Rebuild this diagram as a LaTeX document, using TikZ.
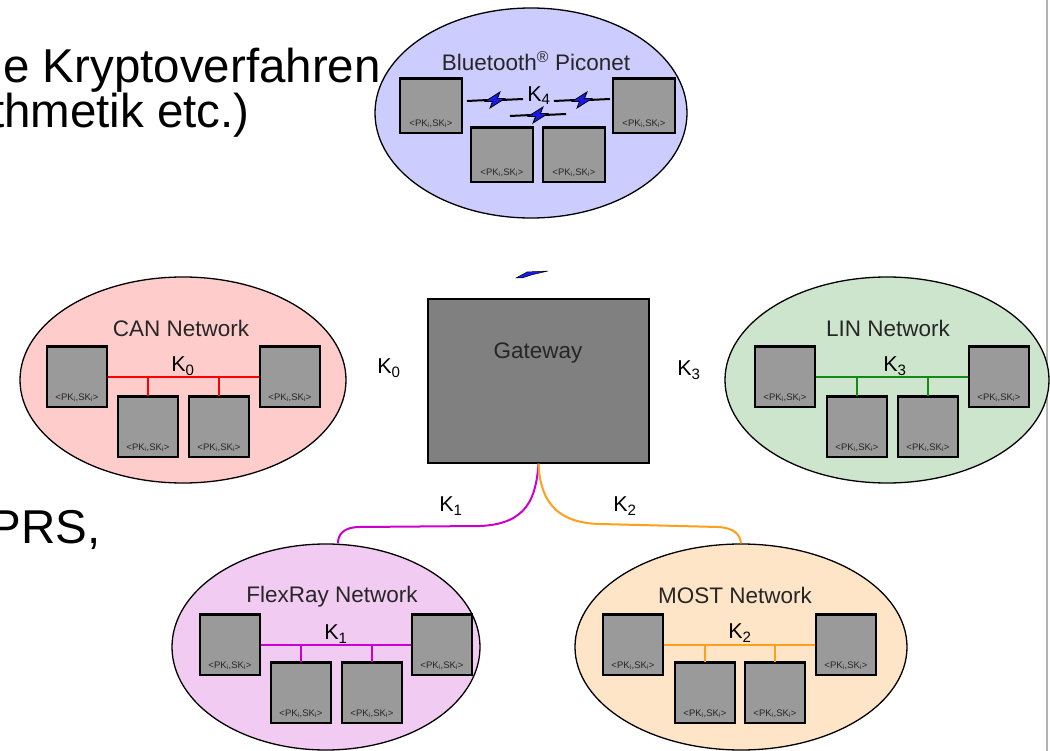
\documentclass[tikz,border=0pt]{standalone}
\usepackage{fontspec}
\setmainfont{Liberation Sans}
\usetikzlibrary{shapes.geometric}
\definecolor{btfill}{HTML}{CCCCFF}
\definecolor{canfill}{HTML}{FFCCCC}
\definecolor{linfill}{HTML}{CCE5CC}
\definecolor{frfill}{HTML}{F2CBF2}
\definecolor{mostfill}{HTML}{FFE5C7}
\definecolor{devgray}{HTML}{9A9A9A}
\definecolor{gwgray}{HTML}{808080}
\definecolor{busred}{HTML}{FF0000}
\definecolor{busgreen}{HTML}{138A13}
\definecolor{busmag}{HTML}{CC00CC}
\definecolor{busor}{HTML}{FF9F1A}
\definecolor{boltblue}{HTML}{1A1AE6}
\definecolor{sepline}{HTML}{B4B4B4}
\begin{document}
\begin{tikzpicture}[x=1pt,y=-1pt,
  net/.style={ellipse, draw=black, line width=1.3pt, inner sep=0pt},
  dev/.style={draw=black, line width=1.1pt, fill=devgray, minimum width=60pt, minimum height=60pt, inner sep=0pt},
  btdev/.style={dev, minimum width=62pt, minimum height=54pt},
  pk/.style={font=\fontsize{9.5}{10}\selectfont, text=black!85, inner sep=0pt},
  title/.style={font=\fontsize{22.5}{25}\selectfont, text=black!85, inner sep=0pt},
  klab/.style={font=\fontsize{21.5}{24}\selectfont, inner sep=0pt},
  bigtxt/.style={font=\fontsize{47.5}{55}\selectfont, inner sep=0pt},
  bus/.style={line width=2.2pt},
  conn/.style={line width=2pt},
  bolt/.pic={
    \draw[line width=2pt] (-28,1) -- (-7,0);
    \draw[line width=2pt] (7,0) -- (28,-1);
    \filldraw[fill=boltblue, draw=black, line width=0.8pt]
      (-10,1.5) -- (5,-8) -- (2.5,-1.5) -- (10,-1.5) -- (-5,8) -- (-2.5,1.5) -- cycle;
  }]
\useasboundingbox (0,0) rectangle (1050,751);
\clip (0,0) rectangle (1050,751);
\fill[white] (0,0) rectangle (1050,751);

% separator line on the right
\draw[line width=2pt, sepline] (1046.5,0) -- (1046.5,751);

% networks
\node[net, fill=btfill, minimum width=312pt, minimum height=210pt] (bt) at (531,113) {};
\node[net, fill=canfill, minimum width=326pt, minimum height=206pt] (can) at (183,380) {};
\node[net, fill=linfill, minimum width=324pt, minimum height=206pt] (lin) at (887,380) {};
\node[net, fill=frfill, minimum width=308pt, minimum height=206pt] (fr) at (326,647) {};
\node[net, fill=mostfill, minimum width=332pt, minimum height=206pt] (mo) at (741,647) {};

% titles
\node[title] (btt) at (536,61) {Bluetooth\textsuperscript{\textregistered} Piconet};
\node[title] (cant) at (181,328) {CAN Network};
\node[title] (lint) at (888,328) {LIN Network};
\node[title] (frt) at (332,597) {FlexRay Network};
\node[title] (mot) at (735,595) {MOST Network};

% devices
\node[btdev] (b1) at (431,106) {};
\node[btdev] (b2) at (644,106) {};
\node[btdev] (b3) at (502,155) {};
\node[btdev] (b4) at (574,155) {};
\node[dev] (c1) at (77,377) {};
\node[dev] (c2) at (290,377) {};
\node[dev] (c3) at (148,427) {};
\node[dev] (c4) at (219,427) {};
\node[dev] (l1) at (785,377) {};
\node[dev] (l2) at (999,377) {};
\node[dev] (l3) at (857,427) {};
\node[dev] (l4) at (928,427) {};
\node[dev] (f1) at (230,645) {};
\node[dev] (f2) at (442,645) {};
\node[dev] (f3) at (301,693) {};
\node[dev] (f4) at (372,693) {};
\node[dev] (m1) at (633,645) {};
\node[dev] (m2) at (846,645) {};
\node[dev] (m3) at (705,693) {};
\node[dev] (m4) at (775,693) {};
\foreach \n in {b1,b2,b3,b4,c1,c2,c3,c4,l1,l2,l3,l4,f1,f2,f3,f4,m1,m2,m3,m4}{
  \draw[line width=2.8pt] (\n.north west) -- (\n.north east);
  \node[pk] (\n k) at ([yshift=10pt]\n.south) {<PK\textsubscript{i},SK\textsubscript{i}>};
}

% buses
\draw[bus, busred] (c1.east) -- (c2.west);
\draw[bus, busred] (c3.north) -- (c3.north |- c1.east);
\draw[bus, busred] (c4.north) -- (c4.north |- c1.east);
\draw[bus, busgreen] (l1.east) -- (l2.west);
\draw[bus, busgreen] (l3.north) -- (l3.north |- l1.east);
\draw[bus, busgreen] (l4.north) -- (l4.north |- l1.east);
\draw[bus, busmag] (f1.east) -- (f2.west);
\draw[bus, busmag] (f3.north) -- (f3.north |- f1.east);
\draw[bus, busmag] (f4.north) -- (f4.north |- f1.east);
\draw[bus, busor] (m1.east) -- (m2.west);
\draw[bus, busor] (m3.north) -- (m3.north |- m1.east);
\draw[bus, busor] (m4.north) -- (m4.north |- m1.east);

% bus labels
\node[klab] (k0i) at (183,366) {K\textsubscript{0}};
\node[klab] (k3i) at (895,366) {K\textsubscript{3}};
\node[klab] (k1i) at (336,634) {K\textsubscript{1}};
\node[klab] (k2i) at (740,633) {K\textsubscript{2}};
\node[klab] (k4i) at (539,96) {K\textsubscript{4}};

% bluetooth links
\pic at (495,100) {bolt};
\pic at (582,100) {bolt};
\pic at (538,115) {bolt};

% gateway
\node[draw=black, line width=1.3pt, fill=gwgray, minimum width=221pt, minimum height=164pt, inner sep=0pt] (gw) at (538.5,381) {};
\node[title] (gwt) at (538,353) {Gateway};
\filldraw[fill=boltblue, draw=black, line width=0.5pt] (516,278) -- (527,272) -- (548,271) -- (531,275) -- (522,278) -- cycle;

% outer labels
\node[klab] (k0o) at (389,368) {K\textsubscript{0}};
\node[klab] (k3o) at (689,370) {K\textsubscript{3}};
\node[klab] (k1o) at (451,506) {K\textsubscript{1}};
\node[klab] (k2o) at (625,506) {K\textsubscript{2}};

% gateway connectors
\draw[conn, busmag] (gw.south) .. controls (536,497) and (528,524) .. (480,526)
  -- (360,527) .. controls (344,527) and (338,534) .. ([xshift=12pt]fr.north);
\draw[conn, busor] (gw.south) .. controls (540,497) and (553,523) .. (600,524)
  -- (718,527) .. controls (734,528) and (740,534) .. (mo.north);

% slide text fragments
\node[bigtxt, anchor=base east] (t1) at (381,83) {e Kryptoverfahren};
\node[bigtxt, anchor=base east] (t2) at (250,128) {thmetik etc.)};
\node[bigtxt, anchor=base east] (t3) at (101,543) {PRS,};
\end{tikzpicture}
\end{document}
